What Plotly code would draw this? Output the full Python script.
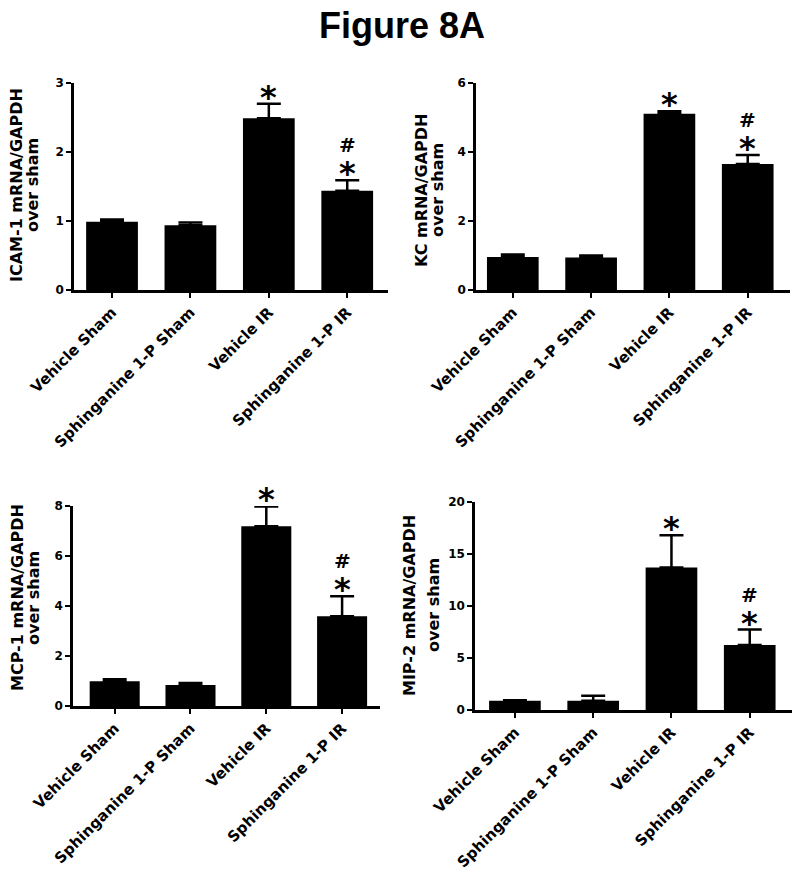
import plotly.graph_objects as go

groups = ["Vehicle Sham", "Sphinganine 1-P Sham", "Vehicle IR", "Sphinganine 1-P IR"]

icam_mean = [0.99, 0.94, 2.49, 1.44]
icam_sem = [0.03, 0.04, 0.21, 0.15]
kc_mean = [0.96, 0.94, 5.11, 3.65]
kc_sem = [0.07, 0.06, 0.07, 0.26]
mcp_mean = [0.99, 0.84, 7.19, 3.59]
mcp_sem = [0.08, 0.08, 0.79, 0.80]
mip_mean = [0.90, 0.90, 13.7, 6.24]
mip_sem = [0.04, 0.48, 3.10, 1.50]

# significance marks: * vs sham, # vs vehicle IR
star_mark = [False, False, True, True]
hash_mark = [False, False, False, True]

# the page body has an 8px margin, so the figure is drawn 8px smaller and
# all pixel positions (measured on the full 800x871 window) are shifted by 8
OFF = 8
W, H = 800 - OFF, 871 - OFF
FONT = "DejaVu Sans"

def px_x(p):
    return (p - OFF) / W

def px_y(p):
    return 1 - (p - OFF) / H

# per panel: data, y label, y max, tick step, axis box in pixels, x range, y-title line x positions, y-title centre
panels = [
    dict(mean=icam_mean, sem=icam_sem, label="ICAM-1 mRNA/GAPDH", ymax=3, dtick=1,
         box=(74, 388, 83, 290), xr=(-0.485, 3.52), tx=(17, 33), ty=185),
    dict(mean=kc_mean, sem=kc_sem, label="KC mRNA/GAPDH", ymax=6, dtick=2,
         box=(476, 790, 83, 290), xr=(-0.47, 3.54), tx=(421, 437), ty=190),
    dict(mean=mcp_mean, sem=mcp_sem, label="MCP-1 mRNA/GAPDH", ymax=8, dtick=2,
         box=(73, 380, 506, 706), xr=(-0.55, 3.5), tx=(17, 33), ty=598),
    dict(mean=mip_mean, sem=mip_sem, label="MIP-2 mRNA/GAPDH", ymax=20, dtick=5,
         box=(475, 792, 502, 710), xr=(-0.51, 3.54), tx=(409, 433), ty=605),
]

fig = go.Figure()
annotations = []
layout = {}

for i, p in enumerate(panels, start=1):
    sfx = "" if i == 1 else str(i)
    x0, x1, y0, y1 = p["box"]
    fig.add_trace(go.Bar(
        x=groups, y=p["mean"],
        marker=dict(color="black", line=dict(width=0)),
        width=0.66,
        error_y=dict(type="data", array=p["sem"], arrayminus=[0] * 4, symmetric=False,
                     color="black", thickness=2.5, width=12),
        xaxis="x" + sfx, yaxis="y" + sfx, showlegend=False,
    ))
    layout["xaxis" + sfx] = dict(
        domain=[px_x(x0), px_x(x1)], anchor="y" + sfx, type="category",
        range=list(p["xr"]), showline=True, linecolor="black", linewidth=2.5,
        ticks="outside", ticklen=5, tickwidth=2, tickcolor="black",
        tickangle=-45, tickfont=dict(family=FONT, size=15, color="black", weight="bold"),
        showgrid=False, zeroline=False, fixedrange=True, automargin=False,
    )
    layout["yaxis" + sfx] = dict(
        domain=[px_y(y1), px_y(y0)], anchor="x" + sfx, range=[0, p["ymax"]],
        dtick=p["dtick"], showline=True, linecolor="black", linewidth=2.5,
        ticks="outside", ticklen=5, tickwidth=2, tickcolor="black",
        tickfont=dict(family=FONT, size=12, color="black", weight="bold"),
        showgrid=False, zeroline=False, fixedrange=True, automargin=False,
    )
    # y axis title, two lines
    for txt, xx in zip([p["label"], "over sham"], p["tx"]):
        annotations.append(dict(
            text=txt, x=px_x(xx), y=px_y(p["ty"]), xref="paper", yref="paper",
            xanchor="center", yanchor="middle", textangle=-90, showarrow=False,
            font=dict(family=FONT, size=16, color="black", weight="bold"),
        ))
    # significance marks
    for g, m, s, st, hs in zip(groups, p["mean"], p["sem"], star_mark, hash_mark):
        if st:
            annotations.append(dict(
                text="*", x=g, y=m + s, xref="x" + sfx, yref="y" + sfx,
                xanchor="center", yanchor="bottom", yshift=-14, showarrow=False,
                font=dict(family=FONT, size=32, color="black", weight="bold"),
            ))
        if hs:
            annotations.append(dict(
                text="#", x=g, y=m + s, xref="x" + sfx, yref="y" + sfx,
                xanchor="center", yanchor="bottom", yshift=21, showarrow=False,
                font=dict(family=FONT, size=20, color="black", weight="bold"),
            ))

fig.update_layout(
    **layout,
    annotations=annotations,
    title=dict(text="Figure 8A", x=px_x(402), xanchor="center", y=px_y(25), yanchor="middle",
               font=dict(family="Liberation Sans", size=36, color="black", weight="bold")),
    width=W, height=H,
    margin=dict(l=0, r=0, t=0, b=0, autoexpand=False),
    paper_bgcolor="white", plot_bgcolor="white",
    bargap=0.34,
)

fig.write_html("out.html")
